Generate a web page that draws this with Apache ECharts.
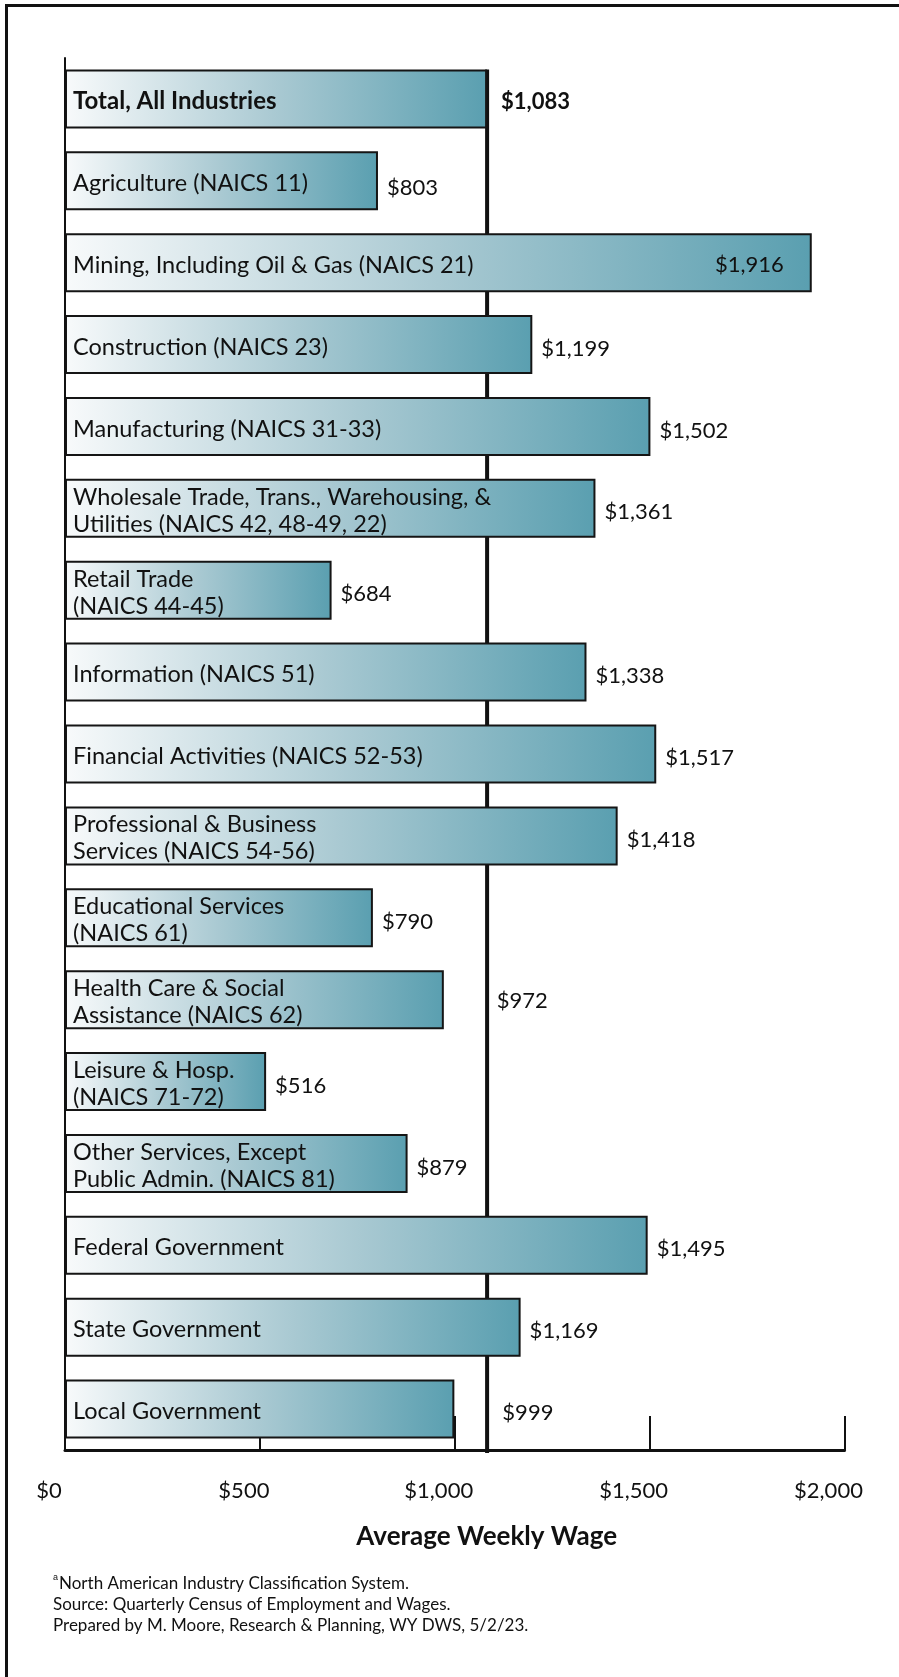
<!DOCTYPE html>
<html>
<head>
<meta charset="utf-8">
<title>Average Weekly Wage by Industry</title>
<script src="https://cdn.jsdelivr.net/npm/echarts@6/dist/echarts.min.js"></script>
<style>
  html, body { margin: 0; padding: 0; background: #ffffff; }
  #chart { width: 899px; height: 1677px; }
</style>
</head>
<body>
<div id="chart"></div>
<script>
// Industry categories, top to bottom
const categories = [
  'Total, All Industries',
  'Agriculture (NAICS 11)',
  'Mining, Including Oil & Gas (NAICS 21)',
  'Construction (NAICS 23)',
  'Manufacturing (NAICS 31-33)',
  'Wholesale Trade, Trans., Warehousing, &\nUtilities (NAICS 42, 48-49, 22)',
  'Retail Trade\n(NAICS 44-45)',
  'Information (NAICS 51)',
  'Financial Activities (NAICS 52-53)',
  'Professional & Business\nServices (NAICS 54-56)',
  'Educational Services\n(NAICS 61)',
  'Health Care & Social\nAssistance (NAICS 62)',
  'Leisure & Hosp.\n(NAICS 71-72)',
  'Other Services, Except\nPublic Admin. (NAICS 81)',
  'Federal Government',
  'State Government',
  'Local Government'
];

// Average weekly wage, dollars
const wages = [1083, 803, 1916, 1199, 1502, 1361, 684, 1338, 1517, 1418, 790, 972, 516, 879, 1495, 1169, 999];

// X axis ticks
const axisMin = 0;
const axisMax = 2000;
const axisStep = 500;

const footnotes = [
  'North American Industry Classification System.',
  'Source: Quarterly Census of Employment and Wages.',
  'Prepared by M. Moore, Research & Planning, WY DWS, 5/2/23.'
];

const FONT = 'Lato, "Open Sans", sans-serif';
const BAR_W = 59;

const money = v => '$' + v.toLocaleString('en-US');

const barFill = new echarts.graphic.LinearGradient(0, 0, 1, 0, [
  { offset: 0, color: '#f8fafb' },
  { offset: 0.5, color: '#a9c9d2' },
  { offset: 1, color: '#5a9fb0' }
]);

// per-row value label placement
function valueLabel(i) {
  const base = { show: true, position: 'right', distance: 9, offset: [0, 4] };
  if (i === 0) return Object.assign(base, { distance: 14, fontWeight: 'bold', offset: [0, 3] });
  if (i === 1) return Object.assign(base, { offset: [0, 7] });
  if (i === 2) return Object.assign(base, { position: 'insideRight', distance: 28, offset: [0, 2] });
  if (i === 11) return Object.assign(base, { distance: 53, offset: [0, 1] });
  if (i === 16) return Object.assign(base, { distance: 48 });
  return base;
}

const chart = echarts.init(document.getElementById('chart'), null, { renderer: 'canvas' });

chart.setOption({
  animation: false,
  backgroundColor: '#ffffff',
  textStyle: { fontFamily: FONT },
  grid: { left: 65, right: 54.5, top: 58, bottom: 227, containLabel: false },
  xAxis: {
    type: 'value',
    min: axisMin,
    max: axisMax,
    interval: axisStep,
    z: 0,
    axisLine: { show: true, lineStyle: { color: '#111', width: 3 } },
    axisTick: { show: true, inside: true, length: 34, lineStyle: { color: '#111', width: 2 } },
    splitLine: { show: false },
    axisLabel: {
      margin: 30,
      fontSize: 22,
      color: '#111',
      fontFamily: FONT,
      padding: [0, 32, 0, 0],
      formatter: v => money(v)
    },
    name: 'Average Weekly Wage',
    nameLocation: 'middle',
    nameGap: 74,
    nameTextStyle: {
      fontSize: 26,
      fontWeight: 'bold',
      color: '#111',
      fontFamily: FONT,
      padding: [0, 0, 0, 64]
    }
  },
  yAxis: {
    type: 'category',
    data: categories,
    inverse: true,
    z: 10,
    axisLine: { show: true, lineStyle: { color: '#111', width: 2 } },
    axisTick: { show: false },
    splitLine: { show: false },
    axisLabel: {
      inside: true,
      margin: 8,
      fontSize: 23.5,
      lineHeight: 27,
      color: '#111',
      fontFamily: FONT,
      padding: [5, 0, 0, 0],
      formatter: (v, i) => i === 0 ? '{b|' + v + '}' : v,
      rich: { b: { fontWeight: 'bold', fontSize: 24, fontFamily: FONT, color: '#111' } }
    }
  },
  series: [
    {
      // reference line at the all-industry average, drawn behind the bars
      type: 'custom',
      z: 1,
      silent: true,
      data: [[wages[0], 0]],
      renderItem: (params, api) => {
        const top = api.coord([api.value(0), api.value(1)]);
        const bottom = params.coordSys.y + params.coordSys.height;
        return {
          type: 'rect',
          shape: { x: top[0] - 2, y: top[1] - BAR_W / 2, width: 4, height: bottom + 3 - (top[1] - BAR_W / 2) },
          style: { fill: '#111' }
        };
      }
    },
    {
      type: 'bar',
      z: 2,
      barWidth: BAR_W,
      data: wages.map((v, i) => ({ value: v, label: valueLabel(i) })),
      itemStyle: { color: barFill, borderColor: '#151515', borderWidth: 2 },
      label: {
        fontSize: 22,
        color: '#111',
        fontFamily: FONT,
        formatter: p => money(p.value)
      }
    }
  ],
  graphic: [
    {
      type: 'rect',
      silent: true,
      shape: { x: 6.5, y: 5.5, width: 1000, height: 2000 },
      style: { fill: 'none', stroke: '#111', lineWidth: 3 }
    },
    {
      type: 'text',
      left: 53,
      top: 1573,
      silent: true,
      style: {
        text: '{s|a}' + footnotes[0] + '\n' + footnotes[1] + '\n' + footnotes[2],
        font: '17px ' + FONT,
        fill: '#111',
        lineHeight: 21,
        rich: {
          s: { fontSize: 9, verticalAlign: 'top', lineHeight: 21, fill: '#111', padding: [0, 1, 8, 0] }
        }
      }
    }
  ]
});
</script>
</body>
</html>
